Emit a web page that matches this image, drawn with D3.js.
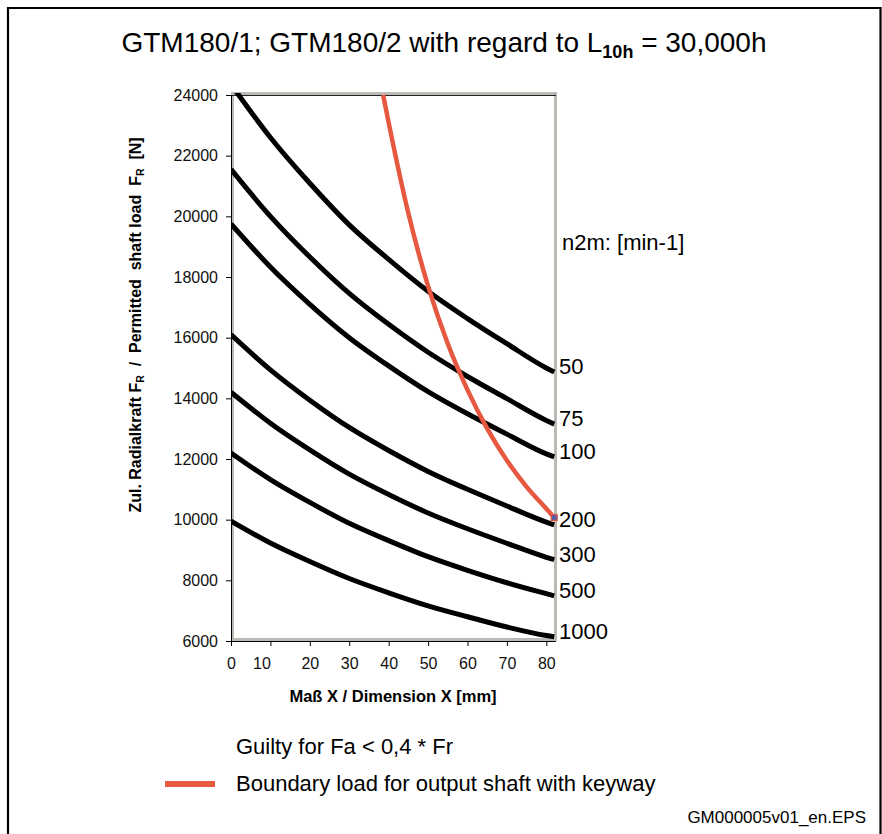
<!DOCTYPE html>
<html>
<head>
<meta charset="utf-8">
<script src="https://cdn.jsdelivr.net/npm/d3@7"></script>
<style>
  html, body { margin: 0; padding: 0; background: #fff; }
  svg { display: block; font-family: "Liberation Sans", Arial, sans-serif; }
</style>
</head>
<body>
<svg id="chart" width="882" height="834"></svg>
<script>
// ---- data ----
const xPositions = [0, 10, 20, 30, 40, 50, 60, 70, 80, 82];
const speeds = ["50", "75", "100", "200", "300", "500", "1000"];
const load50   = [24350, 22600, 21090, 19720, 18580, 17530, 16630, 15800, 15000, 14870];
const load75   = [21550, 20000, 18660, 17460, 16440, 15520, 14720, 13990, 13270, 13150];
const load100  = [19750, 18330, 17100, 16000, 15070, 14220, 13490, 12820, 12170, 12070];
const load200  = [16100, 14940, 13940, 13040, 12280, 11590, 11000, 10450, 9920, 9830];
const load300  = [14200, 13180, 12300, 11500, 10830, 10220, 9700, 9220, 8760, 8680];
const load500  = [12200, 11320, 10570, 9880, 9310, 8780, 8330, 7920, 7560, 7490];
const load1000 = [9950, 9230, 8620, 8060, 7590, 7160, 6800, 6460, 6180, 6140];
const boundaryX = [38.6, 40, 45, 50, 55, 60, 65, 70, 75, 80, 82];
const boundaryY = [24000, 23090, 20100, 17700, 15800, 14280, 13000, 11950, 11080, 10360, 10070];
const xTicks = [0, 10, 20, 30, 40, 50, 60, 70, 80];
const yTicks = [6000, 8000, 10000, 12000, 14000, 16000, 18000, 20000, 22000, 24000];

const seriesLoads = [load50, load75, load100, load200, load300, load500, load1000];

// ---- layout ----
const FONT = "Liberation Sans, Arial, sans-serif";
const svg = d3.select("#chart");
const x = d3.scaleLinear().domain([0, 82.2]).range([231, 555]);
const y = d3.scaleLinear().domain([6000, 24000]).range([641, 95]);

// outer frame (top, left, right)
svg.append("path")
  .attr("d", "M8,834 L8,8 L880.5,8 L880.5,834")
  .attr("fill", "none").attr("stroke", "#000").attr("stroke-width", 2.2);

// title
const title = svg.append("text")
  .attr("x", 444).attr("y", 52)
  .attr("text-anchor", "middle")
  .attr("font-size", 28).attr("fill", "#000");
title.append("tspan").text("GTM180/1; GTM180/2 with regard to L");
title.append("tspan").attr("font-size", 18).attr("font-weight", "bold").attr("dy", 6).text("10h");
title.append("tspan").attr("dy", -6).text(" = 30,000h");

// plot-area border (grey)
svg.append("rect")
  .attr("x", 232.5).attr("y", 93.5)
  .attr("width", 323).attr("height", 546)
  .attr("fill", "none").attr("stroke", "#bdb9b5").attr("stroke-width", 3);
svg.append("line")
  .attr("x1", 231).attr("x2", 556).attr("y1", 95.5).attr("y2", 95.5)
  .attr("stroke", "#222").attr("stroke-width", 1);

// clip for curves
svg.append("clipPath").attr("id", "plotclip")
  .append("rect").attr("x", 231).attr("y", 93).attr("width", 327).attr("height", 550);

const line = d3.line()
  .x(d => x(d[0])).y(d => y(d[1]))
  .curve(d3.curveMonotoneX);

const gCurves = svg.append("g").attr("clip-path", "url(#plotclip)");
seriesLoads.forEach((vals) => {
  gCurves.append("path")
    .datum(xPositions.map((xv, i) => [xv, vals[i]]))
    .attr("d", line)
    .attr("fill", "none")
    .attr("stroke", "#000")
    .attr("stroke-width", 5);
});

// boundary (red) curve
const boundaryPts = boundaryX.map((xv, i) => [xv, boundaryY[i]]);
gCurves.append("path")
  .datum(boundaryPts)
  .attr("d", line)
  .attr("fill", "none")
  .attr("stroke", "#e65840")
  .attr("stroke-width", 4.5);
const endPt = boundaryPts[boundaryPts.length - 1];
svg.append("rect")
  .attr("x", x(endPt[0]) - 3).attr("y", y(endPt[1]) - 3)
  .attr("width", 6).attr("height", 6)
  .attr("fill", "#5a5aa8").attr("stroke", "#e65840").attr("stroke-width", 1.2);

// axes
const xAxis = d3.axisBottom(x).tickValues(xTicks).tickSize(5).tickPadding(12);
const gx = svg.append("g").attr("transform", "translate(0,641)").call(xAxis);
gx.select(".domain").attr("d", "M231,0.5H556").attr("stroke", "#000");
gx.selectAll("text").attr("font-size", 16).attr("font-family", FONT).attr("fill", "#111")
  .attr("dx", d => d === 10 ? -9 : 0);

const yAxis = d3.axisLeft(y).tickValues(yTicks).tickSize(5).tickPadding(8).tickFormat(d3.format("d"));
const gy = svg.append("g").attr("transform", "translate(231,0)").call(yAxis);
gy.select(".domain").attr("d", "M0.5,95V641").attr("stroke", "#000");
gy.selectAll("text").attr("font-size", 16).attr("font-family", FONT).attr("fill", "#111");

// axis titles
svg.append("text")
  .attr("x", 393).attr("y", 702)
  .attr("text-anchor", "middle")
  .attr("font-size", 16.5).attr("font-weight", "bold")
  .text("Maß X / Dimension X [mm]");

const yt = svg.append("text")
  .attr("transform", "translate(141,325) rotate(-90)")
  .attr("text-anchor", "middle")
  .attr("font-size", 16).attr("font-weight", "bold")
  .attr("xml:space", "preserve");
yt.append("tspan").text("Zul. Radialkraft F");
yt.append("tspan").attr("font-size", 10.5).attr("dy", 3).text("R");
yt.append("tspan").attr("dy", -3).text("  /  Permitted  shaft load  F");
yt.append("tspan").attr("font-size", 10.5).attr("dy", 3).text("R");
yt.append("tspan").attr("dy", -3).text("  [N]");

// series labels at the right
svg.append("text")
  .attr("x", 562).attr("y", 250)
  .attr("font-size", 22).text("n2m: [min-1]");
speeds.forEach((s, i) => {
  const vals = seriesLoads[i];
  svg.append("text")
    .attr("x", 559)
    .attr("y", y(vals[vals.length - 1]) + 2)
    .attr("font-size", 22)
    .text(s);
});

// legend
svg.append("text").attr("x", 236).attr("y", 754).attr("font-size", 22).text("Guilty for Fa < 0,4 * Fr");
svg.append("line").attr("x1", 165).attr("x2", 215).attr("y1", 784).attr("y2", 784)
  .attr("stroke", "#e65840").attr("stroke-width", 6);
svg.append("text").attr("x", 236).attr("y", 791).attr("font-size", 22).text("Boundary load for output shaft with keyway");

svg.append("text").attr("x", 866).attr("y", 823).attr("text-anchor", "end")
  .attr("font-size", 17).text("GM000005v01_en.EPS");
</script>
</body>
</html>
